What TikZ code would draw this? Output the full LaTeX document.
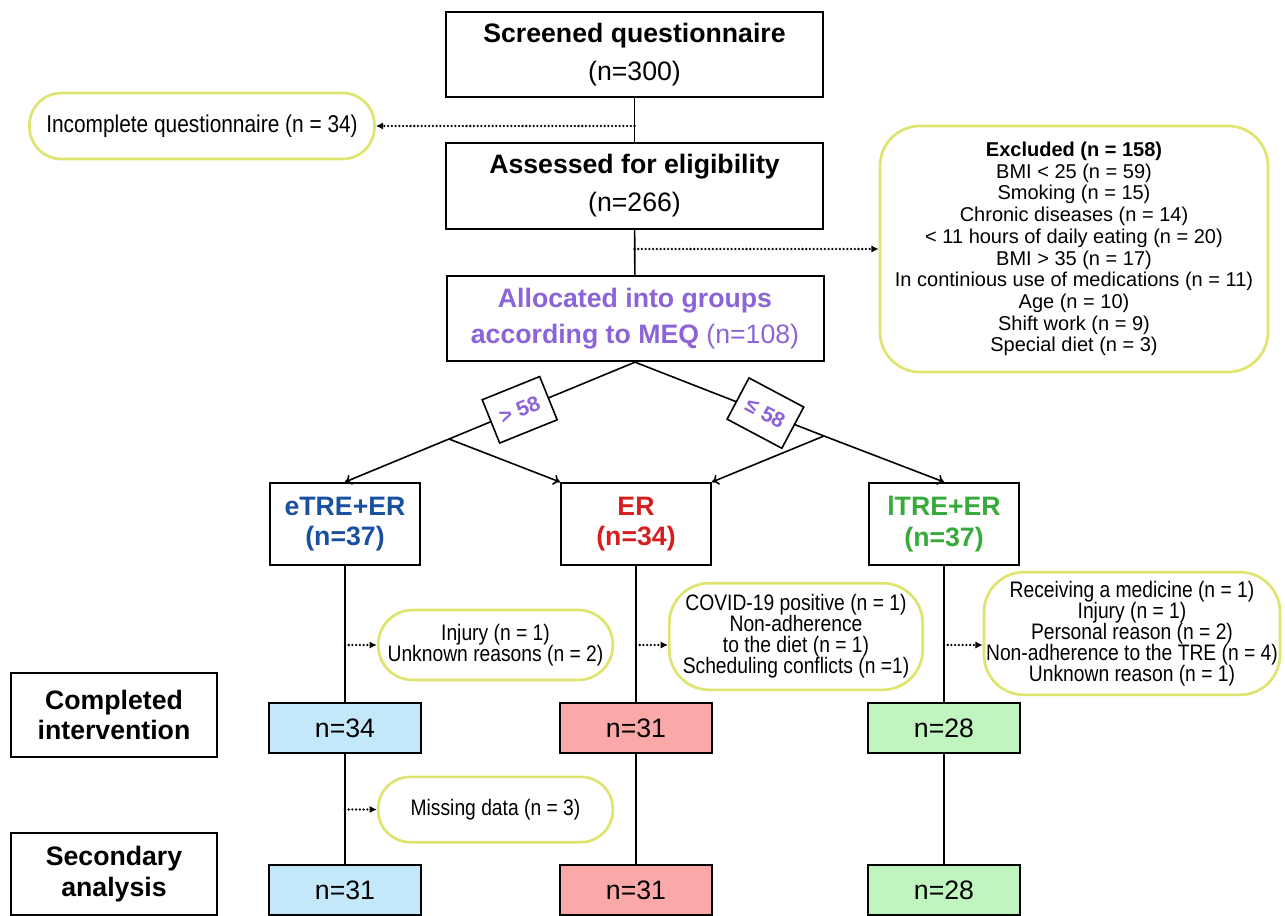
\documentclass[tikz,border=0pt]{standalone}
\usepackage{fontspec}
\setmainfont{Liberation Sans}
\newfontfamily\pillfont[FakeStretch=0.86]{Liberation Sans}
\usetikzlibrary{arrows.meta}

\tikzset{
  box/.style={draw=black,line width=1.5pt,align=center,inner sep=0pt},
  titlebox/.style={box,minimum width=282.75pt,minimum height=64pt,font=\fontsize{20}{28.5}\selectfont},
  groupbox/.style={box,minimum width=112.5pt,minimum height=61.5pt,font=\bfseries\fontsize{20}{23}\selectfont},
  sidebox/.style={box,minimum width=154.5pt,minimum height=62pt,font=\bfseries\fontsize{20}{23}\selectfont},
  countbox/.style={box,minimum width=114pt,minimum height=38pt,font=\fontsize{20}{23}\selectfont},
  pill/.style={draw=pillColor,line width=2pt,align=center,inner sep=0pt,font=\pillfont\fontsize{16.8}{15.75}\selectfont},
  flow/.style={draw=black,line width=1.2pt},
  flowarrow/.style={flow,-{To[length=5pt,width=8pt]}},
  dotarrow/.style={draw=black,line width=1.9pt,line cap=round,dash pattern=on 0pt off 2.8pt,
    -{Latex[length=5.5pt,width=5.5pt]}},
  cutlabel/.style={draw=black,line width=1.2pt,fill=white,text=purpleText,inner sep=0pt,
    minimum width=46.5pt,minimum height=35pt,font=\bfseries\fontsize{16}{18}\selectfont}
}

\begin{document}
\begin{tikzpicture}[x=0.75pt,y=-0.75pt]
\definecolor{purpleText}{RGB}{140,100,215}
\definecolor{blueText}{RGB}{25,80,160}
\definecolor{redText}{RGB}{215,30,30}
\definecolor{greenText}{RGB}{55,170,60}
\definecolor{blueFill}{RGB}{195,232,250}
\definecolor{redFill}{RGB}{250,168,168}
\definecolor{greenFill}{RGB}{192,245,192}
\definecolor{pillColor}{RGB}{222,228,110}
\path[use as bounding box,fill=white] (0,0) rectangle (1285,916);

\node[titlebox] (screen) at (634.5,54.5) {\textbf{Screened questionnaire}\\(n=300)};
\node[titlebox] (assess) at (634.5,186) {\textbf{Assessed for eligibility}\\(n=266)};
\node[titlebox,text=purpleText,font=\fontsize{20}{27}\selectfont] (alloc) at (635,318.5)
  {\textbf{Allocated into groups}\\\textbf{according to MEQ} (n=108)};

\node[pill,rounded corners=24pt,minimum width=258.75pt,minimum height=49.5pt,
  font=\pillfont\fontsize{18.2}{18}\selectfont] (inc) at (202,126) {Incomplete questionnaire (n = 34)};
\node[pill,rounded corners=30pt,minimum width=291pt,minimum height=184.5pt,
  font=\fontsize{15}{16.3}\selectfont] (excl) at (1074,249)
  {\textbf{Excluded (n = 158)}\\BMI < 25 (n = 59)\\Smoking (n = 15)\\Chronic diseases (n = 14)\\
   < 11 hours of daily eating (n = 20)\\BMI > 35 (n = 17)\\In continious use of medications (n = 11)\\
   Age (n = 10)\\Shift work (n = 9)\\Special diet (n = 3)};

\node[groupbox,text=blueText] (etre) at (345,524) {eTRE+ER\\(n=37)};
\node[groupbox,text=redText] (er) at (636,524) {ER\\(n=34)};
\node[groupbox,text=greenText] (ltre) at (944,524) {lTRE+ER\\(n=37)};

\coordinate (jl) at (449,439);
\coordinate (jr) at (824,436);

\node[pill,rounded corners=26pt,minimum width=176pt,minimum height=52.5pt] (inj) at (495.5,645)
  {Injury (n = 1)\\Unknown reasons (n = 2)};
\node[pill,rounded corners=30pt,minimum width=190pt,minimum height=80pt] (covid) at (796,636.5)
  {COVID-19 positive (n = 1)\\Non-adherence\\to the diet (n = 1)\\Scheduling conflicts (n =1)};
\node[pill,rounded corners=30pt,minimum width=222pt,minimum height=92pt] (recv) at (1132,633.5)
  {Receiving a medicine (n = 1)\\Injury (n = 1)\\Personal reason (n = 2)\\Non-adherence to the TRE (n = 4)\\Unknown reason (n = 1)};

\node[sidebox,minimum height=63pt] (compl) at (114,715) {Completed\\intervention};
\node[countbox,fill=blueFill] (eComp) at (345,728) {n=34};
\node[countbox,fill=redFill] (rComp) at (636,728) {n=31};
\node[countbox,fill=greenFill] (lComp) at (944,728) {n=28};

\node[pill,rounded corners=24pt,minimum width=176pt,minimum height=49pt] (miss) at (495.5,809.5)
  {Missing data (n = 3)};

\node[sidebox,minimum height=62pt] (second) at (114,874) {Secondary\\analysis};
\node[countbox,fill=blueFill,minimum height=37pt] (eSec) at (345,890) {n=31};
\node[countbox,fill=redFill,minimum height=37pt] (rSec) at (636,890) {n=31};
\node[countbox,fill=greenFill,minimum height=37pt] (lSec) at (944,890) {n=28};

\draw[flow] (screen) -- (assess);
\draw[flow] (assess) -- (alloc);
\draw[dotarrow] (screen.south |- inc.east) -- (inc.east);
\draw[dotarrow] (assess.south |- excl.west) -- (excl.west);

\draw[flow] (alloc.south) -- node[cutlabel,rotate=22,pos=0.62] (gt) {> 58} (jl);
\draw[flowarrow] (jl) -- (etre.north);
\draw[flowarrow] (jl) -- (er.north west);
\draw[flow] (alloc.south) -- node[cutlabel,rotate=-28,pos=0.69] (le) {≤ 58} (jr);
\draw[flowarrow] (jr) -- (ltre.north);
\draw[flowarrow] (jr) -- (er.north east);

\draw[flow] (etre) -- (eComp) -- (eSec);
\draw[flow] (er) -- (rComp) -- (rSec);
\draw[flow] (ltre) -- (lComp) -- (lSec);

\draw[dotarrow] (etre.south |- inj.west) -- (inj.west);
\draw[dotarrow] (er.south |- inj.west) -- (covid.west |- inj.west);
\draw[dotarrow] (ltre.south |- inj.west) -- (recv.west |- inj.west);
\draw[dotarrow] (eComp.south |- miss.west) -- (miss.west);
\end{tikzpicture}
\end{document}
